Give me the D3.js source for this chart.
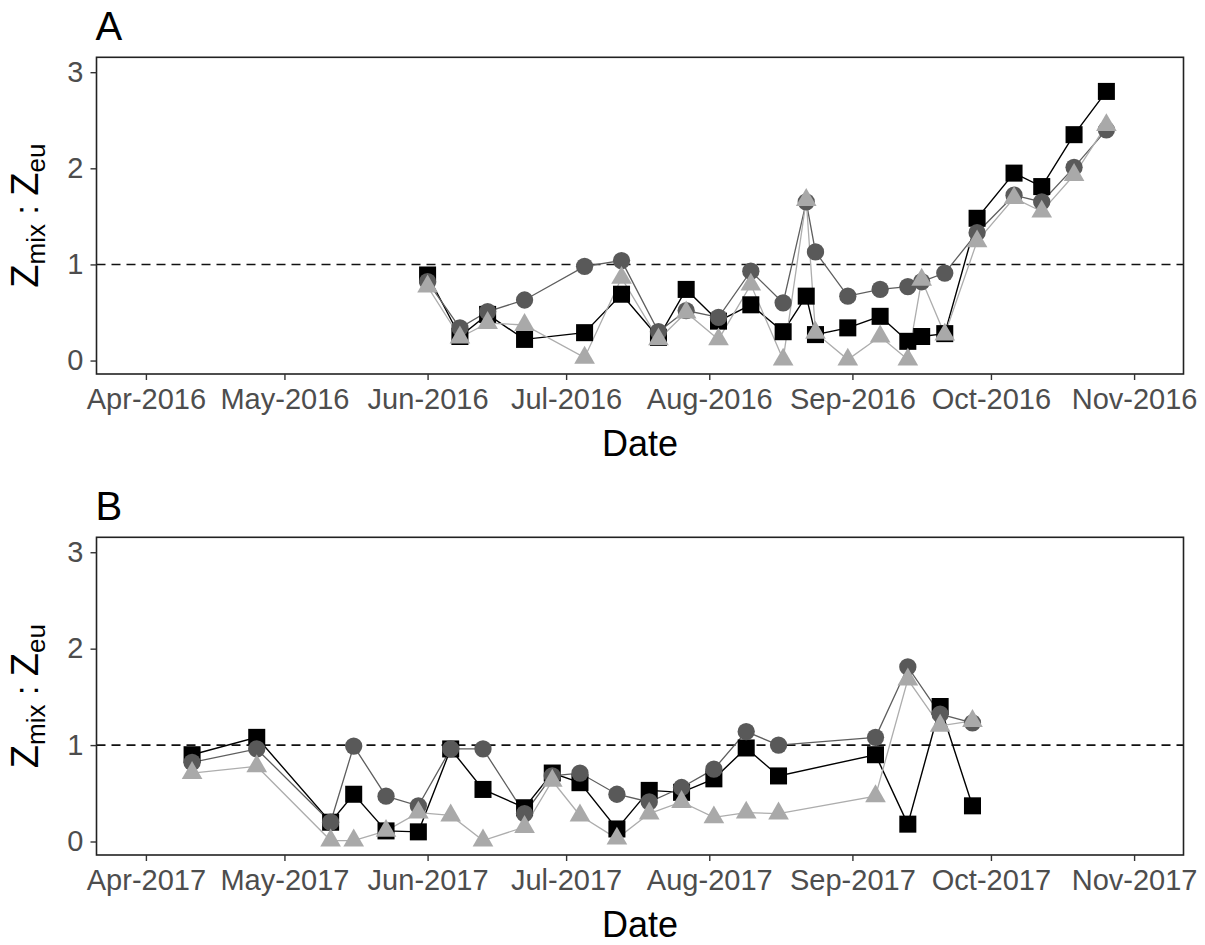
<!DOCTYPE html>
<html>
<head>
<meta charset="utf-8">
<script src="https://cdn.jsdelivr.net/npm/d3@7"></script>
<style>
  html, body { margin: 0; padding: 0; background: #fff; }
  svg { display: block; }
  text { font-family: "Liberation Sans", Arial, sans-serif; }
</style>
</head>
<body>
<svg id="chart" width="1205" height="945"></svg>
<script>
// ---------- DATA ----------
const datesA = ["2016-06-01","2016-06-08","2016-06-14","2016-06-22","2016-07-05","2016-07-13","2016-07-21","2016-07-27",
  "2016-08-03","2016-08-10","2016-08-17","2016-08-22","2016-08-24","2016-08-31","2016-09-07","2016-09-13","2016-09-16",
  "2016-09-21","2016-09-28","2016-10-06","2016-10-12","2016-10-19","2016-10-26"];
const squaresA   = [0.89,0.25,0.48,0.22,0.29,0.69,0.24,0.74,0.41,0.58,0.30,0.67,0.27,0.34,0.46,0.20,0.25,0.28,1.48,1.95,1.81,2.35,2.80];
const circlesA   = [0.82,0.34,0.51,0.63,0.98,1.04,0.30,0.52,0.45,0.93,0.60,1.65,1.13,0.67,0.74,0.77,0.82,0.91,1.33,1.72,1.65,2.01,2.40];
const trianglesA = [0.77,0.24,0.39,0.37,0.03,0.86,0.22,0.50,0.22,0.79,0.01,1.67,0.29,0.01,0.25,0.01,0.84,0.27,1.24,1.69,1.55,1.93,2.45];

const datesB = ["2017-04-11","2017-04-25","2017-05-11","2017-05-16","2017-05-23","2017-05-30","2017-06-06","2017-06-13",
  "2017-06-22","2017-06-28","2017-07-04","2017-07-12","2017-07-19","2017-07-26","2017-08-02","2017-08-09","2017-08-16",
  "2017-09-06","2017-09-13","2017-09-20","2017-09-27"];
const squaresB   = [0.90,1.08,0.20,0.49,0.11,0.10,0.96,0.54,0.35,0.71,0.61,0.13,0.53,0.51,0.65,0.97,0.68,0.90,0.18,1.40,0.37];
const circlesB   = [0.82,0.96,0.20,0.99,0.47,0.37,0.96,0.96,0.29,0.68,0.71,0.49,0.41,0.56,0.75,1.14,1.00,1.08,1.81,1.32,1.23];
const trianglesB = [0.71,0.78,0.01,0.01,0.11,0.30,0.27,0.01,0.15,0.63,0.27,0.03,0.29,0.41,0.25,0.30,0.29,0.47,1.68,1.20,1.25];

const monthTicksA = ["2016-04-01","2016-05-01","2016-06-01","2016-07-01","2016-08-01","2016-09-01","2016-10-01","2016-11-01"];
const monthTicksB = ["2017-04-01","2017-05-01","2017-06-01","2017-07-01","2017-08-01","2017-09-01","2017-10-01","2017-11-01"];
const yTicks = [0, 1, 2, 3];
const panelLabels = ["A", "B"];
const xTitle = "Date";

// ---------- LAYOUT ----------
const parse = d3.timeParse("%Y-%m-%d");
const fmt = d3.timeFormat("%b-%Y");
const svg = d3.select("#chart");
const L = 96.5, R = 1183.5;
const panels = [
  { label: panelLabels[0], top: 57.3, bottom: 374, dates: datesA, sq: squaresA, ci: circlesA, tr: trianglesA, ticks: monthTicksA },
  { label: panelLabels[1], top: 537.3, bottom: 855, dates: datesB, sq: squaresB, ci: circlesB, tr: trianglesB, ticks: monthTicksB }
];

const seriesStyle = [
  { key: "sq", sym: d3.symbolSquare, size: 290, fill: "#000000", line: "#000000", lw: 1.4 },
  { key: "ci", sym: d3.symbolCircle, size: 235, fill: "#595959", line: "#5e5e5e", lw: 1.3 },
  { key: "tr", sym: d3.symbolTriangle, size: 185, fill: "#a9a9a9", line: "#adadad", lw: 1.3 }
];
const FONT = '"Liberation Sans", Arial, sans-serif';

panels.forEach(p => {
  const t0 = parse(p.ticks[0]), t1 = parse(p.ticks[p.ticks.length - 1]);
  const span = t1 - t0;
  const x = d3.scaleTime().domain([new Date(+t0 - 0.05 * span), new Date(+t1 + 0.05 * span)]).range([L, R]);
  const y = d3.scaleLinear().domain([-0.14, 3.155]).range([p.bottom, p.top]);
  const g = svg.append("g");

  // dashed reference line
  g.append("line").attr("x1", L).attr("x2", R).attr("y1", y(1)).attr("y2", y(1))
    .attr("stroke", "#111").attr("stroke-width", 1.6).attr("stroke-dasharray", "9,6");

  // lines
  seriesStyle.forEach(s => {
    const pts = p.dates.map((d, i) => [x(parse(d)), y(p[s.key][i])]);
    g.append("path").attr("d", d3.line()(pts)).attr("fill", "none")
      .attr("stroke", s.line).attr("stroke-width", s.lw);
  });
  // points
  seriesStyle.forEach(s => {
    const sym = d3.symbol().type(s.sym).size(s.size);
    g.selectAll(null).data(p.dates.map((d, i) => ({ d: parse(d), v: p[s.key][i] })))
      .enter().append("path")
      .attr("d", sym)
      .attr("transform", d => `translate(${x(d.d)},${y(d.v)})`)
      .attr("fill", s.fill);
  });

  // box
  g.append("rect").attr("x", L).attr("y", p.top).attr("width", R - L).attr("height", p.bottom - p.top)
    .attr("fill", "none").attr("stroke", "#222").attr("stroke-width", 1.6);

  // x axis
  const xa = d3.axisBottom(x).tickValues(p.ticks.map(parse)).tickFormat(fmt).tickSize(6).tickPadding(8);
  const gx = g.append("g").attr("transform", `translate(0,${p.bottom})`).call(xa);
  gx.select(".domain").remove();
  gx.selectAll(".tick line").attr("stroke", "#333").attr("stroke-width", 1.4);
  gx.selectAll(".tick text").attr("fill", "#4d4d4d").style("font-size", "29px").style("font-family", FONT);

  // y axis
  const ya = d3.axisLeft(y).tickValues(yTicks).tickFormat(d3.format("d")).tickSize(6).tickPadding(7);
  const gy = g.append("g").attr("transform", `translate(${L},0)`).call(ya);
  gy.select(".domain").remove();
  gy.selectAll(".tick line").attr("stroke", "#333").attr("stroke-width", 1.4);
  gy.selectAll(".tick text").attr("fill", "#4d4d4d").style("font-size", "29px").style("font-family", FONT);

  // x title
  g.append("text").attr("x", (L + R) / 2).attr("y", p.bottom + 82).attr("text-anchor", "middle")
    .style("font-size", "36px").attr("fill", "#000").text(xTitle);

  // panel label
  g.append("text").attr("x", L - 1).attr("y", p.top - 17).style("font-size", "40px").attr("fill", "#000").text(p.label);

  // y title
  const cy = (p.top + p.bottom) / 2;
  const yt = g.append("text").attr("transform", `translate(38,${cy}) rotate(-90)`).attr("text-anchor", "middle")
    .attr("fill", "#000");
  yt.append("tspan").style("font-size", "38px").text("Z");
  yt.append("tspan").style("font-size", "26px").attr("dy", 7).text("mix");
  yt.append("tspan").style("font-size", "34px").attr("dy", -7).text(" : ");
  yt.append("tspan").style("font-size", "38px").text("Z");
  yt.append("tspan").style("font-size", "26px").attr("dy", 7).text("eu");
});
</script>
</body>
</html>
